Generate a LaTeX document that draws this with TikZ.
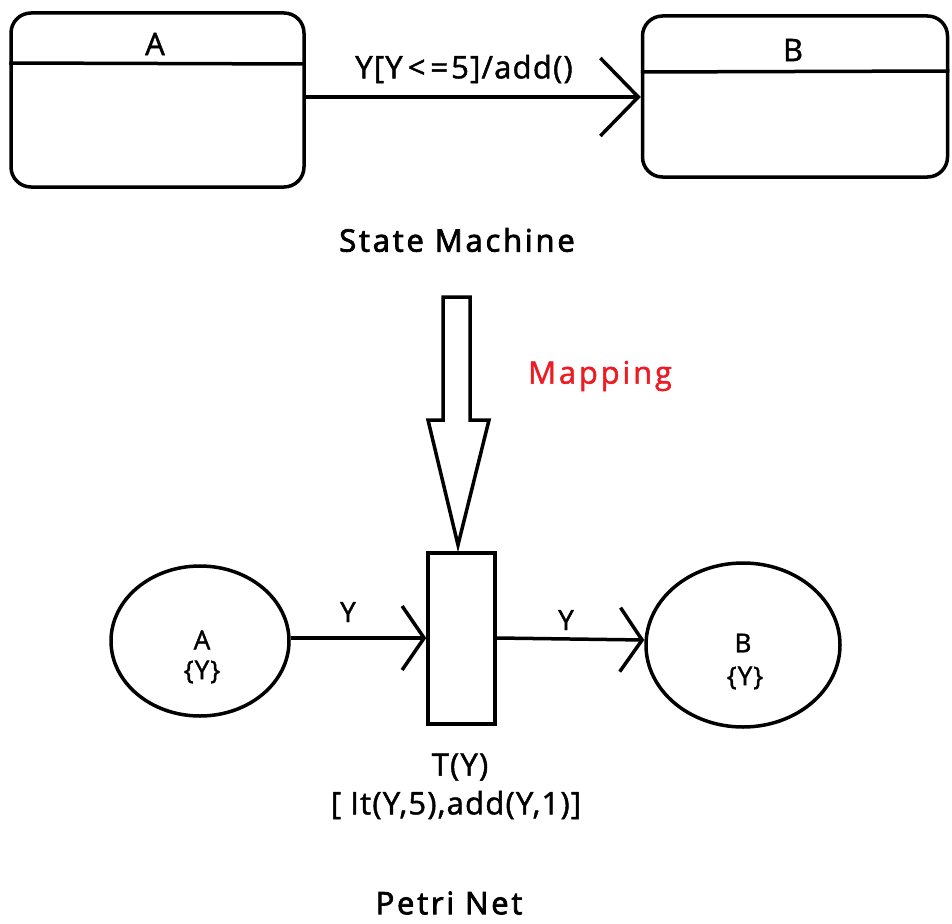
\documentclass[tikz,border=0pt]{standalone}
\usepackage{fontspec}
\setmainfont{Open Sans}[LetterSpace=4,FakeBold=1.5]
\usetikzlibrary{arrows.meta,shapes.geometric}
\definecolor{mapred}{RGB}{237,28,36}
\begin{document}
\begin{tikzpicture}[x=1pt,y=-1pt,
  every node/.style={font=\fontsize{31}{36}\selectfont, inner sep=0pt},
  small/.style={font=\fontsize{26}{30}\selectfont},
  arclab/.style={font=\fontsize{28}{32}\selectfont},
  ln/.style={line width=3.5pt},
  statebox/.style={draw, ln, rounded corners=20pt},
  place/.style={draw, ln, ellipse},
  trans/.style={draw, ln, rectangle},
  bigbarb/.style={-{Straight Barb[length=38pt,width=78pt,line width=3.5pt]}},
  smallbarb/.style={-{Straight Barb[length=22pt,width=64pt,line width=3.5pt]}},
  title/.style={font=\fontsize{31}{36}\selectfont\addfontfeature{LetterSpace=9,FakeBold=2.5}}
]
\useasboundingbox (0,0) rectangle (952,923);
% State machine
\node[statebox, minimum width=293pt, minimum height=174pt] (sA) at (157.5,100) {};
\node[statebox, minimum width=305pt, minimum height=161pt] (sB) at (795,96.5) {};
\draw[ln] (sA.west |- 0,63) -- (sA.east |- 0,64);
\draw[ln] (sB.west |- 0,72) -- (sB.east |- 0,71);
\node (tA) at (155,44) {A};
\node (tB) at (793,50) {B};
\draw[ln,bigbarb] (sA.east |- 0,97) -- (sB.west |- 0,97);
\node (lab) at (464,69) {Y[Y\kern5pt<\kern5pt=\kern3pt5]/add()};
\node[title] (sm) at (457,240) {State Machine};
% Mapping block arrow
\coordinate (tip) at (458,545);
\draw[ln, line join=miter] (443,297) -- (470,297) -- (470,420) -- (489,420) -- (tip) -- (428,420) -- (443,420) -- cycle;
\node[text=mapred, font=\fontsize{31}{36}\selectfont\addfontfeature{LetterSpace=9}] (map) at (600,376) {Mapping};
% Petri net
\node[place, minimum width=178pt, minimum height=150pt] (pA) at (200,641) {};
\node[place, minimum width=194pt, minimum height=164pt] (pB) at (743,645) {};
\node[trans, minimum width=67pt, minimum height=171pt] (T) at (461.5,638.5) {};
\draw[ln,smallbarb] (pA.east |- 0,638) -- (T.west |- 0,638);
\draw[ln,smallbarb] (T.east |- 0,638) -- (pB.west |- 0,640);
\node[small] (pAt) at (202,640) {A};
\node[small] (pAy) at (202,672) {\{Y\}};
\node[small] (pBt) at (743,643) {B};
\node[small] (pBy) at (745,678) {\{Y\}};
\node[arclab] (y1) at (348,612) {Y};
\node[arclab] (y2) at (566,620) {Y};
\node (ty) at (460,767) {T(Y)};
\node (guard) at (456,805) {[ It(Y,5),add(Y,1)]};
\node[title] (pn) at (449,903) {Petri Net};
\end{tikzpicture}
\end{document}
